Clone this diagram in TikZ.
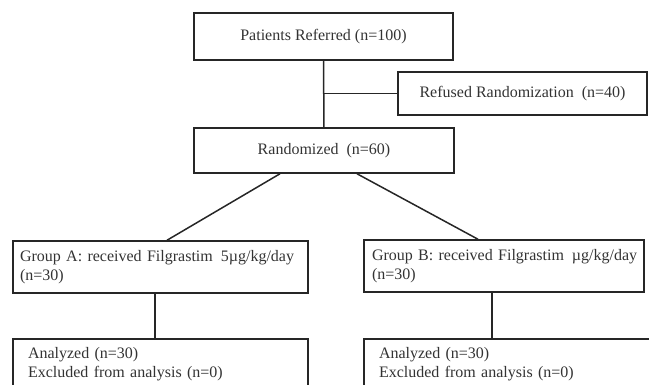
\documentclass[tikz,border=0pt]{standalone}
\usepackage{fontspec}
\setmainfont{Liberation Serif}
\begin{document}
\begin{tikzpicture}[x=1pt,y=-1pt,
  box/.style={draw=black!85, line width=1.5pt, inner sep=0pt,
    font=\fontsize{16}{19}\selectfont, text=black!80},
  conn/.style={draw=black!85, line width=1.5pt}]
\useasboundingbox (0,0) rectangle (649,384);
\clip (0,0) rectangle (649,384);

\node[box, minimum width=259pt, minimum height=47pt] (top) at (323.5,36.5) {Patients Referred (n=100)};
\node[box, minimum width=249pt, minimum height=43pt] (ref) at (522.5,93.5) {Refused Randomization\enspace(n=40)};
\node[box, minimum width=260pt, minimum height=45pt] (rand) at (324,150.5) {Randomized\enspace(n=60)};

\node[box, text width=281pt, align=left, inner xsep=7pt, minimum height=52pt] (grpA) at (160.5,267)
  {\hbox{Group A: received Filgrastim\enspace 5µg/kg/day}\\(n=30)};
\node[box, text width=264pt, align=left, inner xsep=8pt, minimum height=52pt] (grpB) at (504,266)
  {\hbox{Group B: received Filgrastim\enspace µg/kg/day}\\(n=30)};

\node[box, text width=265pt, align=left, inner xsep=15pt, minimum height=50pt] (anaA) at (160.5,364)
  {Analyzed (n=30)\\Excluded from analysis (n=0)};
\node[box, text width=262pt, align=left, inner xsep=15pt, minimum height=50pt] (anaB) at (510,364)
  {Analyzed (n=30)\\Excluded from analysis (n=0)};

\draw[conn] (top.south) -- (rand.north);
\draw[conn] (ref.west) -- (ref.west -| top.south);
\draw[conn] ([xshift=-44pt]rand.south) -- ([xshift=6.5pt]grpA.north);
\draw[conn] ([xshift=33pt]rand.south) -- ([xshift=-26pt]grpB.north);
\draw[conn] ([xshift=-5.5pt]grpA.south) -- ([xshift=-5.5pt]anaA.north);
\draw[conn] ([xshift=-12pt]grpB.south) -- ([xshift=-18pt]anaB.north);
\end{tikzpicture}
\end{document}
